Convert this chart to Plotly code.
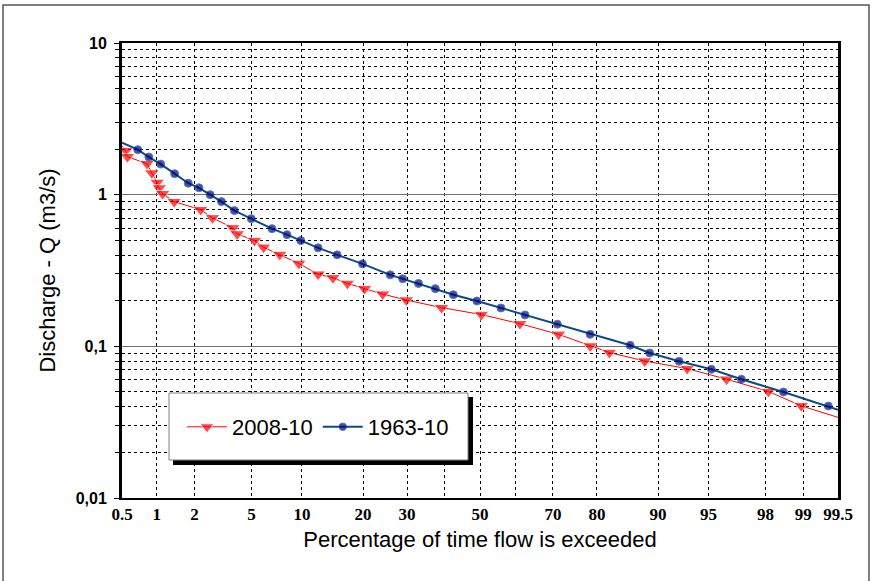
import plotly.graph_objects as go
from statistics import NormalDist

# Flow duration curves
pct_2008 = [0.5, 0.54, 0.56, 0.83, 0.91, 1.01, 1.05, 1.12, 1.39, 2.22, 2.71, 3.76, 4.03,
            5.24, 5.97, 7.48, 9.61, 12.2, 14.5, 17.0, 20.3, 24.2, 29.8, 39.1, 50.4, 61.3,
            71.4, 78.6, 82.4, 88.2, 93.2, 96.2, 98.1, 98.96, 99.5]
q_2008 = [2.10, 1.95, 1.78, 1.60, 1.39, 1.205, 1.107, 1.015, 0.899, 0.797, 0.703, 0.604,
          0.551, 0.498, 0.450, 0.403, 0.352, 0.299, 0.283, 0.260, 0.240, 0.221, 0.202,
          0.180, 0.162, 0.141, 0.120, 0.1005, 0.091, 0.080, 0.0713, 0.0607, 0.0504,
          0.0405, 0.034]

pct_1963 = [0.5, 0.69, 0.86, 1.08, 1.40, 1.79, 2.16, 2.61, 3.14, 3.86, 4.99, 6.72, 8.24,
            9.86, 12.2, 15.2, 19.9, 25.9, 28.9, 32.9, 37.4, 42.4, 49.1, 56.0, 62.7, 71.1,
            78.6, 86.0, 88.9, 92.4, 95.2, 97.0, 98.55, 99.39, 99.5]
q_1963 = [2.20, 1.98, 1.77, 1.59, 1.375, 1.19, 1.11, 1.00, 0.90, 0.785, 0.695, 0.597,
          0.545, 0.498, 0.446, 0.401, 0.350, 0.296, 0.279, 0.260, 0.240, 0.219, 0.199,
          0.179, 0.161, 0.140, 0.120, 0.1016, 0.0904, 0.0797, 0.0706, 0.0607, 0.0500,
          0.0404, 0.0382]

x_labels = [0.5, 1, 2, 5, 10, 20, 30, 50, 70, 80, 90, 95, 98, 99, 99.5]
x_extra_grid = [40, 60]
y_ticks = [0.01, 0.1, 1, 10]
y_ticktext = ["0,01", "0,1", "1", "10"]

nd = NormalDist()


def prob(p):
    # normal probability scale
    return nd.inv_cdf(p / 100.0)


def sizes(n, s):
    # no markers on the end points (they sit on the axes)
    return [0] + [s] * (n - 2) + [0]


fig = go.Figure()
fig.add_trace(go.Scatter(
    x=[prob(p) for p in pct_2008], y=q_2008, name="2008-10", mode="lines+markers",
    line=dict(color="#ff0000", width=1),
    marker=dict(symbol="triangle-down", color="#ff0000", size=sizes(len(q_2008), 13)),
))
fig.add_trace(go.Scatter(
    x=[prob(p) for p in pct_1963], y=q_1963, name="1963-10", mode="lines+markers",
    line=dict(color="#0b4a8a", width=2),
    marker=dict(symbol="circle", color="#000080", size=sizes(len(q_1963), 8)),
))

# plot area: x 122..838, y 43..498 px
L, R, T, B = 122, 838, 43, 498
W, H = R - L, B - T


def px_x(v):
    return (v - L) / W


def px_y(v):
    return (B - v) / H


shapes = [
    # outer frame of the picture
    dict(type="rect", xref="paper", yref="paper", x0=px_x(3), x1=px_x(869), y0=px_y(600), y1=px_y(5),
         line=dict(color="#555555", width=1.5), layer="below"),
    # legend shadow + box
    dict(type="rect", xref="paper", yref="paper", x0=px_x(173), x1=px_x(473), y0=px_y(465), y1=px_y(397),
         fillcolor="black", line=dict(width=0), layer="above"),
    dict(type="rect", xref="paper", yref="paper", x0=px_x(169), x1=px_x(468), y0=px_y(460), y1=px_y(393),
         fillcolor="white", line=dict(color="#808080", width=1), layer="above"),
]

fig.update_layout(
    width=873, height=581,
    margin=dict(l=L, r=873 - R, t=T, b=581 - B),
    paper_bgcolor="white", plot_bgcolor="white",
    font=dict(family="Liberation Sans, Arial", color="black"),
    shapes=shapes,
    showlegend=True,
    legend=dict(
        orientation="h", x=px_x(318), y=px_y(427), xanchor="center", yanchor="middle",
        bgcolor="rgba(0,0,0,0)", borderwidth=0, font=dict(size=22, color="black"),
        itemwidth=40,
    ),
    xaxis=dict(
        range=[prob(0.5), prob(99.5)],
        tickvals=[prob(p) for p in x_labels],
        ticktext=[str(p) for p in x_labels],
        tickfont=dict(family="Liberation Serif", size=17, weight="bold"),
        ticks="", showgrid=True, gridcolor="black", gridwidth=1, griddash="3px,3px",
        minor=dict(tickvals=[prob(p) for p in x_extra_grid], showgrid=True,
                   gridcolor="black", gridwidth=1, griddash="3px,3px", ticks=""),
        showline=True, linecolor="black", linewidth=2, mirror=True,
        zeroline=False,
        title=dict(text="Percentage of time flow is exceeded", font=dict(size=22), standoff=8),
    ),
    yaxis=dict(
        type="log", range=[-2, 1],
        tickvals=y_ticks, ticktext=y_ticktext,
        tickfont=dict(family="Liberation Sans", size=16, weight="bold"),
        ticks="outside", ticklen=5, tickcolor="black", ticklabelstandoff=4,
        showgrid=True, gridcolor="#707070", gridwidth=1,
        minor=dict(tickvals=[m * 10 ** k for k in (-2, -1, 0) for m in range(2, 10)],
                   showgrid=True, gridcolor="black", gridwidth=1, griddash="3px,3px",
                   ticks="outside", ticklen=4, tickcolor="black"),
        showline=True, linecolor="black", linewidth=3, mirror=True,
        zeroline=False,
        title=dict(text="Discharge - Q (m3/s)", font=dict(size=22), standoff=14),
    ),
)

# page body has an 8px margin by default; drop it so the figure sits at the window corner
fig.write_html("out.html", config={"displayModeBar": False},
               post_script="document.body.style.margin='0px';")
